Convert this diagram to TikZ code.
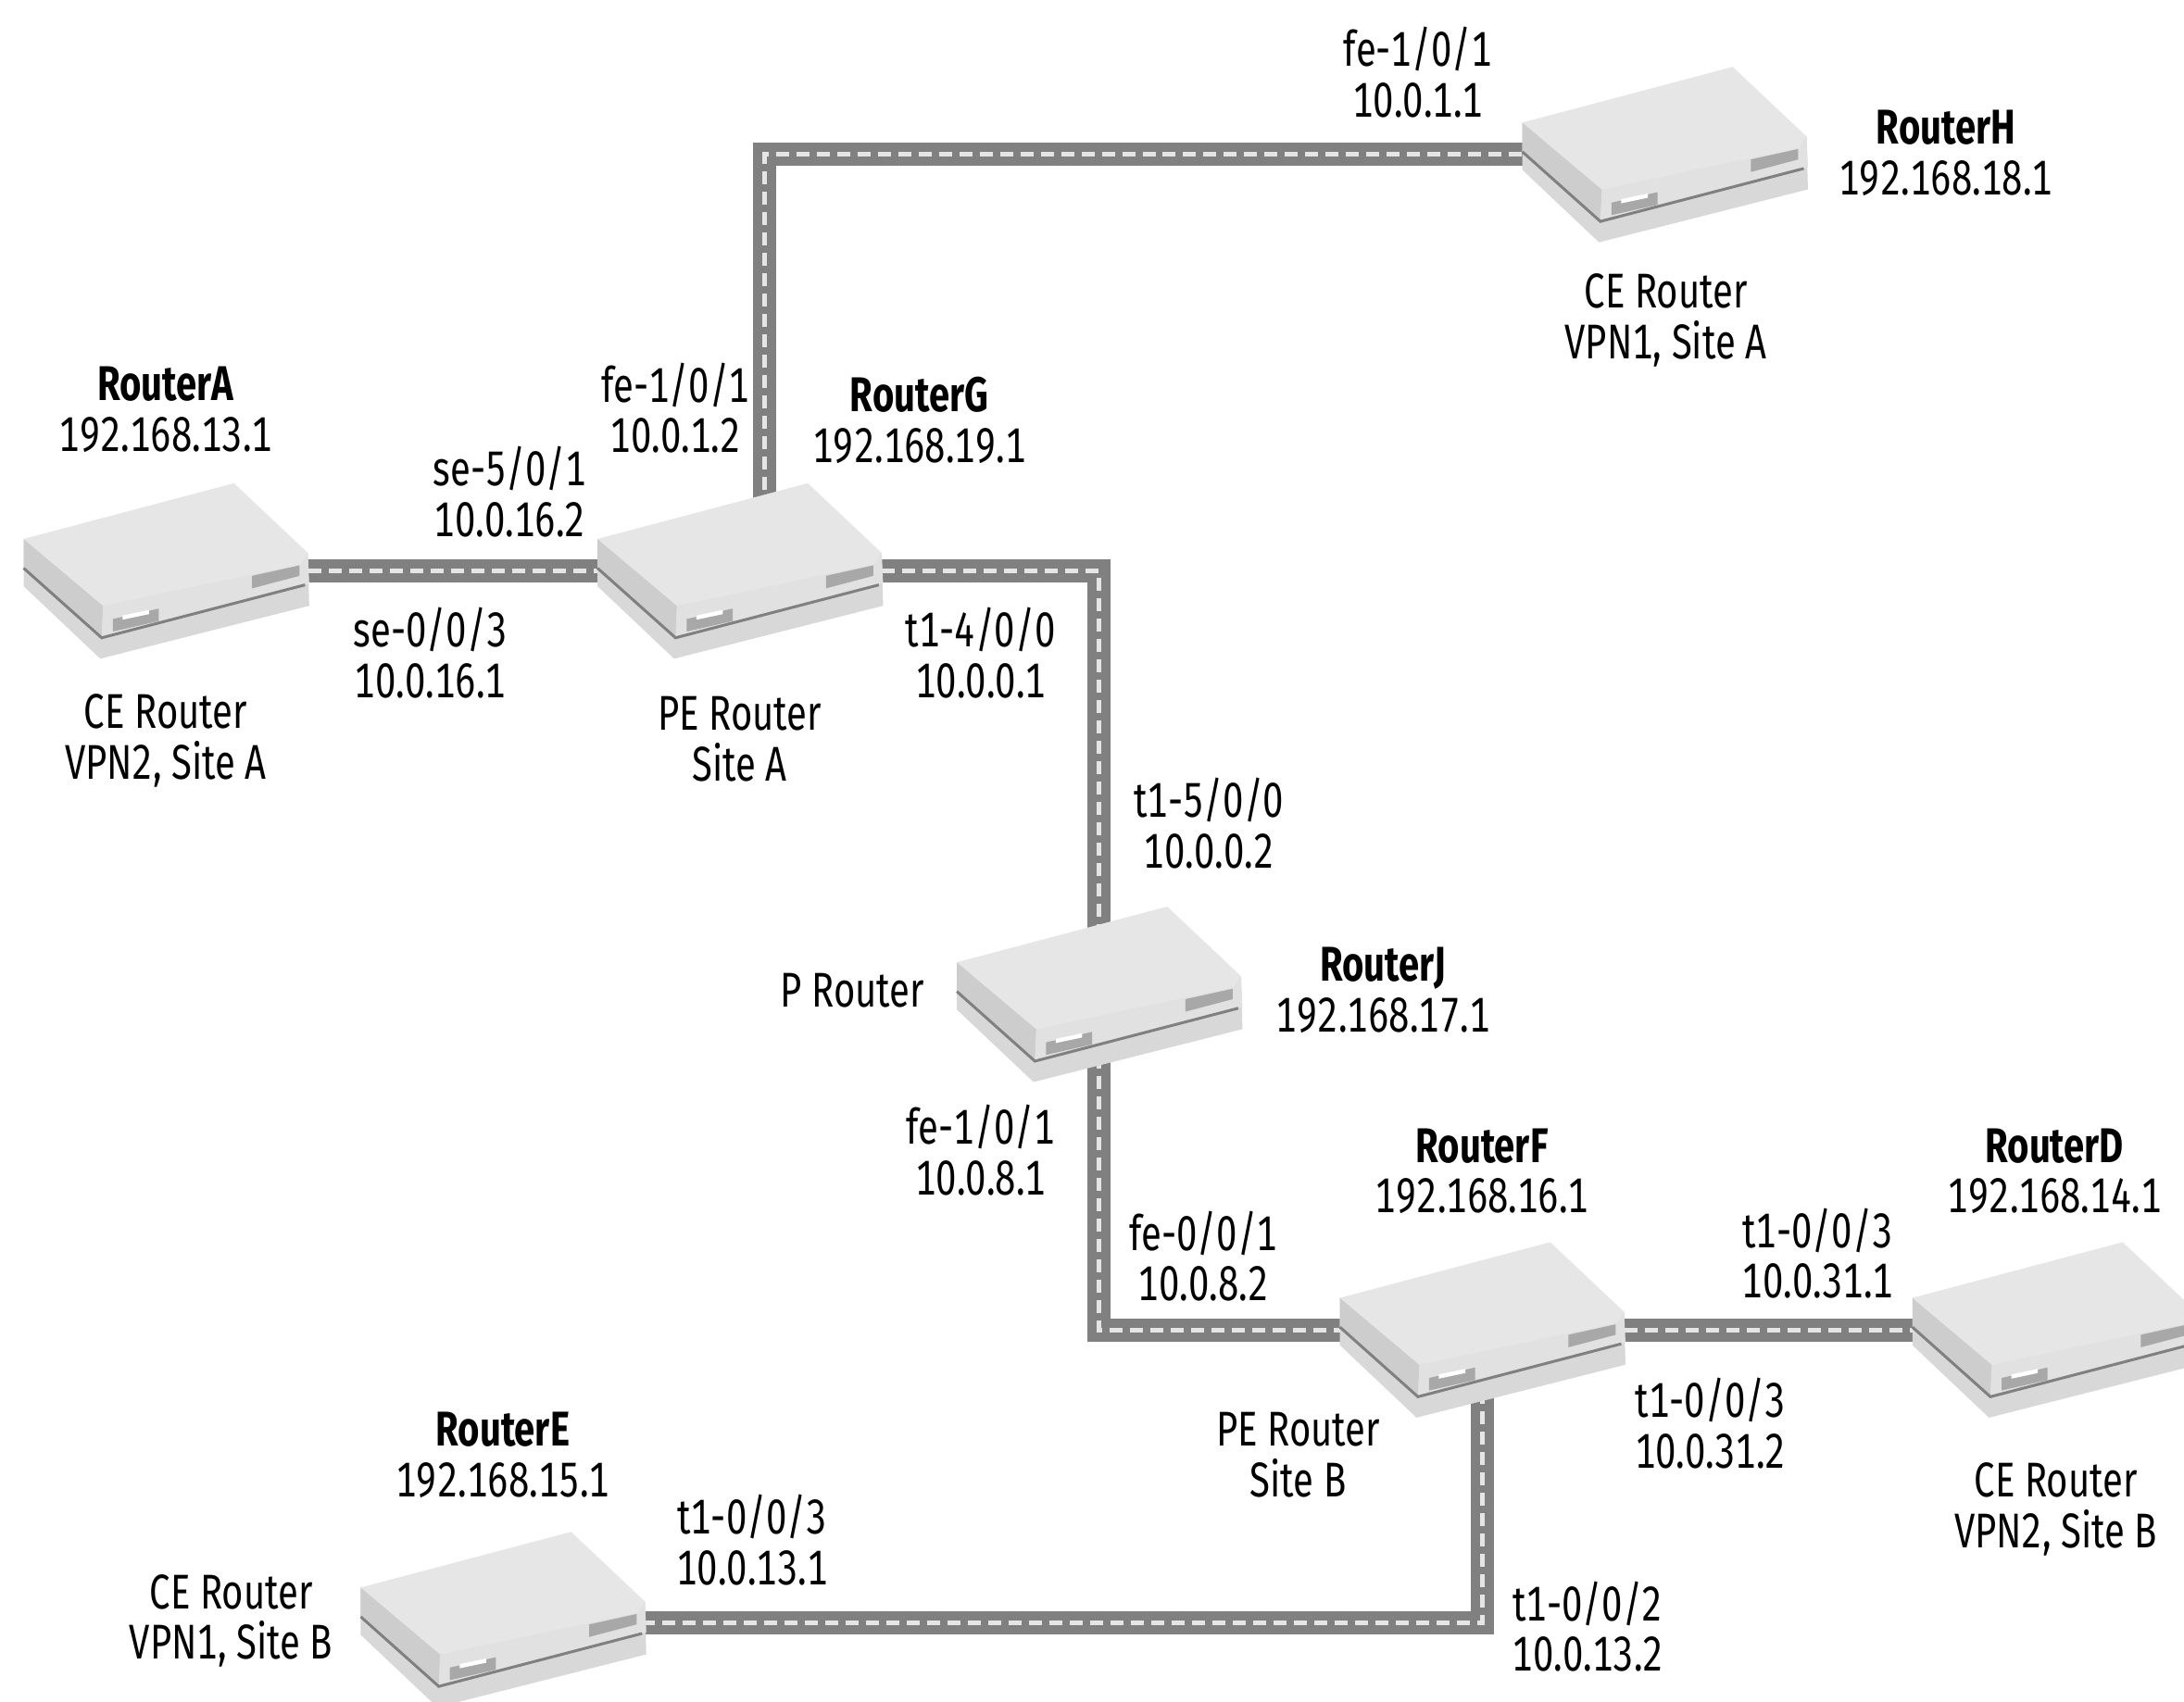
\documentclass[tikz,border=0pt]{standalone}
\usepackage{fontspec}
\setmainfont[FakeStretch=0.76, Numbers=Monospaced]{Fira Sans}
\usepackage{xcolor}

\definecolor{linkgray}{HTML}{808080}
\definecolor{rtrtop}{HTML}{E6E6E6}
\definecolor{rtrfront}{HTML}{E1E1E1}
\definecolor{rtrside}{HTML}{CDCDCD}
\definecolor{rtrtray}{HTML}{D8D8D8}
\definecolor{rtrvent}{HTML}{A8A8A8}

\tikzset{
  routerbox/.style={minimum width=3.1cm, minimum height=1.9cm, inner sep=0pt},
  textlbl/.style={align=center, inner sep=0pt, font=\fontsize{15}{15.6}\selectfont},
  linkline/.style={draw=linkgray, line width=0.25cm},
  linkdash/.style={draw=white!90!black, line width=0.05cm, dash pattern=on 0.14cm off 0.08cm}
}

\newcommand{\routershape}[1]{
  \begin{scope}[shift={(#1)}]
    \fill[rtrtray] (-102,-23) -- (-102,11) -- (-47,63) -- (103,25) -- (102,-13) -- cycle;
    \fill[rtrside] (-102,-23) -- (-45,25) -- (-46,47) -- (-102,-2) -- cycle;
    \fill[rtrfront] (-45,25) -- (102,-13) -- (103,9) -- (-46,47) -- cycle;
    \fill[rtrtop] (-102,-23) -- (49,-63) -- (102,-13) -- (97,-5) -- (-45,25) -- cycle;
    \fill[rtrvent] (62,3.5) -- (96,-4) -- (96,3.5) -- (62,12.5) -- cycle;
    \fill[rtrvent] (-38,34.5) -- (-5,27) -- (-5,36) -- (-38,43.5) -- cycle;
    \fill[white] (-31,32) -- (-12,28) -- (-12,31) -- (-31,35) -- cycle;
    \draw[gray, line width=0.03cm] (-102,-2) -- (-46,48) -- (100,10);
  \end{scope}
}

\begin{document}
\begin{tikzpicture}[x=0.01504cm, y=-0.01504cm]
  \path[use as bounding box, clip] (0,0) rectangle (1568,1221.6);

  % Routers
  \node[routerbox] (A) at (119,410) {};
  \node[routerbox] (G) at (531,410) {};
  \node[routerbox] (H) at (1195,111) {};
  \node[routerbox] (J) at (789,714) {};
  \node[routerbox] (F) at (1064,955) {};
  \node[routerbox] (D) at (1475,955) {};
  \node[routerbox] (E) at (361,1163) {};

  % Links
  \foreach \s in {linkline, linkdash} {
    \draw[\s] (A.center) -- (G.center);
    \draw[\s] ([xshift=0.27cm]G.center) |- (H.center);
    \draw[\s] (G.center) -| (J.center);
    \draw[\s] (J.center) |- (F.center);
    \draw[\s] (F.center) -- (D.center);
    \draw[\s] (F.center) |- ([yshift=-0.04cm]E.center);
  }

  % Router bodies
  \foreach \r in {A,G,H,J,F,D,E} {
    \routershape{\r}
  }

  % Router names
  \node[textlbl] (nameH) at (1397,110) {\textbf{RouterH}\\192.168.18.1};
  \node[textlbl] (nameG) at (660,302) {\textbf{RouterG}\\192.168.19.1};
  \node[textlbl] (nameA) at (119,294) {\textbf{RouterA}\\192.168.13.1};
  \node[textlbl] (nameJ) at (993,711) {\textbf{RouterJ}\\192.168.17.1};
  \node[textlbl] (nameF) at (1064,841) {\textbf{RouterF}\\192.168.16.1};
  \node[textlbl] (nameD) at (1475,841) {\textbf{RouterD}\\192.168.14.1};
  \node[textlbl] (nameE) at (361,1045) {\textbf{RouterE}\\192.168.15.1};

  % Router roles
  \node[textlbl] (roleH) at (1196,230) {CE Router\\VPN1, Site A};
  \node[textlbl] (roleA) at (119,532) {CE Router\\VPN2, Site A};
  \node[textlbl] (roleG) at (531,531) {PE Router\\Site A};
  \node[textlbl] (roleJ) at (612,711) {P Router};
  \node[textlbl] (roleF) at (932,1045) {PE Router\\Site B};
  \node[textlbl] (roleD) at (1476,1084) {CE Router\\VPN2, Site B};
  \node[textlbl] (roleE) at (166,1164) {CE Router\\VPN1, Site B};

  % Interfaces
  \node[textlbl] (ifHG) at (1018,52) {fe-1/0/1\\10.0.1.1};
  \node[textlbl] (ifGH) at (485,293) {fe-1/0/1\\10.0.1.2};
  \node[textlbl] (ifGA) at (366,353) {se-5/0/1\\10.0.16.2};
  \node[textlbl] (ifAG) at (309,469) {se-0/0/3\\10.0.16.1};
  \node[textlbl] (ifGJ) at (704,469) {t1-4/0/0\\10.0.0.1};
  \node[textlbl] (ifJG) at (868,591) {t1-5/0/0\\10.0.0.2};
  \node[textlbl] (ifJF) at (704,826) {fe-1/0/1\\10.0.8.1};
  \node[textlbl] (ifFJ) at (864,902) {fe-0/0/1\\10.0.8.2};
  \node[textlbl] (ifDF) at (1305,900) {t1-0/0/3\\10.0.31.1};
  \node[textlbl] (ifFD) at (1228,1022) {t1-0/0/3\\10.0.31.2};
  \node[textlbl] (ifEF) at (540,1106) {t1-0/0/3\\10.0.13.1};
  \node[textlbl] (ifFE) at (1140,1168) {t1-0/0/2\\10.0.13.2};
\end{tikzpicture}
\end{document}
